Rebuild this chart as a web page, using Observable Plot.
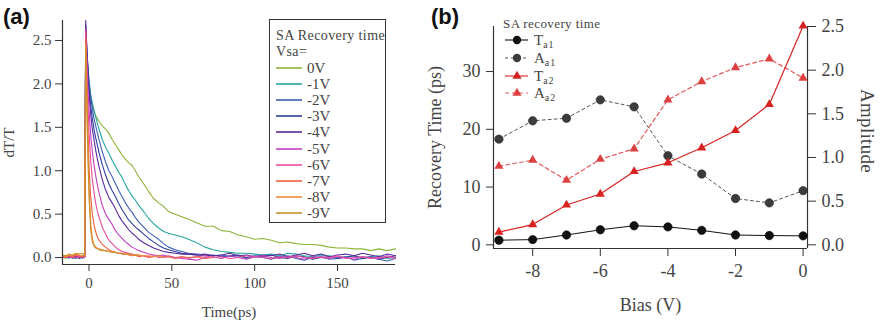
<!DOCTYPE html>
<html><head><meta charset="utf-8">
<script src="https://cdn.jsdelivr.net/npm/d3@7"></script>
<script src="https://cdn.jsdelivr.net/npm/@observablehq/plot@0.6"></script>
<style>
body{margin:0;background:#fff;}
#wrap{position:relative;width:880px;height:324px;overflow:hidden;font-family:"Liberation Serif","Times New Roman",serif;color:#444;}
#wrap svg text{font-family:"Liberation Serif","Times New Roman",serif !important;fill:#444;font-variant:normal !important;font-variant-numeric:normal !important;}
.tag{position:absolute;font-family:"Liberation Sans",Arial,sans-serif;font-weight:bold;font-size:22px;color:#111;line-height:22px;}
.ylab{position:absolute;font-size:19px;white-space:nowrap;transform-origin:0 0;letter-spacing:0.3px;}
.legA{position:absolute;left:269px;top:19px;width:115px;height:202px;border:1px solid #333;background:#fff;}
.legA .t{position:absolute;left:6px;font-size:14px;letter-spacing:0.4px;line-height:16px;white-space:nowrap;}
.legA .e{position:absolute;left:6px;height:16px;font-size:15px;line-height:16px;white-space:nowrap;}
.legA .e svg{position:absolute;left:0;top:0;}
.legA .e span{position:absolute;left:31px;top:0;}
.legB{position:absolute;left:503px;top:16px;}
.legB .t{position:absolute;left:0;top:0;font-size:13px;letter-spacing:0.4px;white-space:nowrap;line-height:16px;}
.legB .e{position:absolute;left:0;height:18px;white-space:nowrap;}
.legB .e svg{position:absolute;left:0;top:0;}
.legB .e span{position:absolute;left:31px;top:0;font-size:15px;line-height:18px;}
.legB sub{font-size:10px;vertical-align:-3px;letter-spacing:1px;}
</style></head><body><div id="wrap"></div>
<script>
// ---------- Panel (a) data ----------
const times = [-16,-14,-12,-10,-8,-6,-4,-3,-2.6,
  -2,-1,0,1,2,3,4,5,6,
  8,10,12,14,16,18,20,22,24,26,28,30,
  33,36,39,42,45,48,
  52,56,60,
  65,70,75,80,85,90,95,100,
  105,110,115,120,125,130,135,140,145,150,
  155,160,165,170,175,180,185];
const voltLabels = ["0V","-1V","-2V","-3V","-4V","-5V","-6V","-7V","-8V","-9V"];
const voltColors = ["#8db33a","#27a5a0","#3b5fb8","#2e3f9e","#5a2a9e","#c23fc2","#ee4b9a","#f0603f","#f28a3c","#c8922a"];
const v0V = [0.01,-0.01,0.02,0.0,0.01,-0.01,0.02,0.01,0.02,
  2.35,2.15,1.98,1.86,1.76,1.68,1.64,1.6,1.57,
  1.52,1.48,1.43,1.36,1.3,1.24,1.18,1.13,1.09,1.06,1.0,0.93,
  0.85,0.76,0.68,0.63,0.59,0.53,
  0.5,0.47,0.44,
  0.4,0.36,0.36,0.31,0.3,0.26,0.24,0.21,
  0.22,0.2,0.17,0.18,0.16,0.15,0.15,0.14,0.12,0.11,
  0.11,0.1,0.1,0.08,0.1,0.08,0.1];
const vm1V = [0.0,0.01,-0.01,0.02,0.0,0.01,-0.01,0.02,0.01,
  2.5,2.25,2.05,1.88,1.78,1.7,1.62,1.55,1.48,
  1.36,1.27,1.2,1.12,1.05,0.98,0.92,0.84,0.77,0.71,0.66,0.6,
  0.53,0.45,0.39,0.34,0.3,0.28,
  0.26,0.24,0.21,
  0.17,0.12,0.09,0.07,0.06,0.05,0.05,0.04,
  0.03,0.04,0.02,0.05,0.04,0.02,0.01,0.03,0.02,0.0,
  0.01,0.02,0.0,0.01,0.02,-0.01,0.0];
const vm2V = [0.01,0.0,0.02,-0.01,0.01,0.0,0.02,0.0,0.01,
  2.6,2.3,2.0,1.85,1.72,1.6,1.52,1.44,1.36,
  1.22,1.1,1.0,0.93,0.85,0.77,0.7,0.63,0.57,0.52,0.46,0.41,
  0.35,0.29,0.25,0.21,0.16,0.12,
  0.09,0.07,0.05,
  0.04,0.03,0.02,0.03,0.01,0.02,-0.01,0.01,
  0.0,-0.02,0.01,0.02,-0.01,-0.03,0.0,0.01,-0.02,-0.01,
  0.01,-0.03,-0.01,0.0,-0.02,-0.04,-0.01];
const vm3V = [0.0,0.02,0.0,0.01,-0.01,0.02,0.01,0.0,0.01,
  2.68,2.3,1.95,1.75,1.6,1.48,1.38,1.3,1.21,
  1.07,0.95,0.85,0.77,0.7,0.62,0.55,0.49,0.43,0.39,0.35,0.32,
  0.27,0.22,0.18,0.14,0.11,0.09,
  0.07,0.05,0.04,
  0.03,0.02,0.03,0.01,0.02,0.03,0.0,0.02,
  0.01,0.03,0.0,-0.01,0.02,0.01,-0.02,0.0,0.01,-0.01,
  0.0,0.02,-0.01,0.01,-0.02,0.0,0.02];
const vm4V = [0.02,0.0,0.01,0.0,0.02,-0.01,0.01,0.02,0.0,
  2.73,2.25,1.9,1.65,1.48,1.36,1.24,1.14,1.05,
  0.9,0.78,0.69,0.63,0.56,0.48,0.42,0.37,0.32,0.28,0.25,0.21,
  0.17,0.14,0.11,0.09,0.07,0.06,
  0.05,0.04,0.04,
  0.03,0.04,0.02,0.03,0.05,0.02,0.03,0.01,
  0.03,0.02,0.04,0.01,0.03,0.05,0.02,0.04,0.01,0.03,
  0.04,0.02,0.05,0.03,0.01,0.04,0.02];
const vm5V = [0.01,0.02,0.0,0.01,0.03,0.01,0.0,0.02,0.01,
  2.6,2.1,1.7,1.42,1.22,1.07,0.95,0.84,0.75,
  0.6,0.5,0.44,0.38,0.31,0.26,0.22,0.18,0.15,0.12,0.1,0.08,
  0.06,0.04,0.03,0.02,0.03,0.01,
  0.0,-0.01,-0.02,
  -0.03,0.0,0.01,-0.01,0.02,0.0,-0.02,0.01,
  0.02,0.0,-0.01,0.01,0.0,-0.02,0.01,0.0,-0.01,0.01,
  0.0,-0.02,0.01,0.0,-0.01,0.02,0.0];
const vm6V = [0.0,0.01,0.02,0.0,0.01,0.0,0.02,0.01,0.0,
  2.63,1.95,1.45,1.12,0.9,0.75,0.63,0.54,0.47,
  0.35,0.27,0.2,0.16,0.12,0.09,0.07,0.06,0.05,0.04,0.03,0.02,
  0.02,0.01,0.02,0.0,0.01,0.02,
  0.0,0.01,-0.01,
  0.01,0.02,0.0,0.01,-0.01,0.0,0.02,0.01,
  0.0,-0.01,0.01,0.0,0.02,0.0,-0.01,0.01,0.0,0.02,
  -0.01,0.0,0.01,-0.01,0.0,0.01,-0.01];
const vm7V = [0.01,0.0,0.02,0.01,0.03,0.02,0.01,0.02,0.01,
  2.52,1.7,1.05,0.7,0.5,0.38,0.3,0.24,0.2,
  0.15,0.12,0.09,0.07,0.06,0.05,0.04,0.04,0.03,0.02,0.03,0.01,
  0.02,0.0,0.01,0.02,0.0,0.01,
  -0.01,0.01,0.0,
  0.01,-0.01,0.0];
const vm8V = [0.02,0.01,0.03,0.02,0.04,0.03,0.02,0.03,0.02,
  2.45,1.5,0.8,0.4,0.22,0.15,0.12,0.11,0.1,
  0.09,0.08,0.07,0.07,0.06,0.05,0.05,0.04,0.04,0.03,0.03,0.03,
  0.02,0.02,0.01,0.02,0.01];
const vm9V = [0.03,0.02,0.04,0.03,0.05,0.04,0.05,0.03,0.02,
  2.42,1.4,0.7,0.32,0.18,0.13,0.11,0.1,0.09,
  0.08,0.08,0.07,0.06,0.06,0.05,0.05,0.04,0.04,0.03,0.03,0.03];
const xTicksA = [0,50,100,150];
const yTicksA = [0,0.5,1.0,1.5,2.0,2.5];

// ---------- Panel (b) data ----------
const bias = [-9,-8,-7,-6,-5,-4,-3,-2,-1,0];
const Ta1 = [0.8,0.9,1.7,2.6,3.3,3.1,2.5,1.7,1.6,1.55];
const Aa1 = [1.21,1.42,1.45,1.66,1.58,1.02,0.81,0.53,0.48,0.62];
const Ta2 = [2.2,3.5,6.9,8.8,12.7,14.2,16.8,19.8,24.3,37.9];
const Aa2 = [0.90,0.97,0.74,0.98,1.10,1.66,1.87,2.03,2.13,1.91];
const biasTicks = [-8,-6,-4,-2,0];
const timeTicksB = [0,10,20,30];
const ampTicks = [0,0.5,1.0,1.5,2.0,2.5];

// ---------- build ----------
const SERIF = "Liberation Serif";
const wrap = document.getElementById("wrap");
const seriesA = [v0V,vm1V,vm2V,vm3V,vm4V,vm5V,vm6V,vm7V,vm8V,vm9V];
const rowsA = [];
voltLabels.forEach((lab, si) => {
  times.forEach((t, i) => {
    const v = seriesA[si][i];
    if (v != null) rowsA.push({t, v, s: lab});
  });
});

const plotA = Plot.plot({
  width: 420, height: 324,
  marginLeft: 62, marginRight: 25, marginTop: 20, marginBottom: 60,
  style: {background: "transparent", overflow: "visible", fontFamily: SERIF},
  x: {domain: [-16, 185]},
  y: {domain: [-0.08, 2.73]},
  color: {domain: voltLabels, range: voltColors},
  marks: [
    Plot.lineY(rowsA, {x: "t", y: "v", z: "s", stroke: "s", strokeWidth: 1.1}),
    Plot.ruleX([-16], {stroke: "#333", strokeWidth: 1.2}),
    Plot.ruleY([-0.08], {stroke: "#333", strokeWidth: 1.2}),
    Plot.axisX({ticks: xTicksA, tickSize: 7, tickPadding: 6, stroke: "#333", fontFamily: SERIF, fontSize: 15, fontVariant: "normal", tickFormat: d => String(d), label: "Time(ps)", labelAnchor: "center", labelOffset: 52, labelArrow: "none"}),
    Plot.axisY({ticks: yTicksA, tickSize: 7, tickPadding: 4, stroke: "#333", fontFamily: SERIF, fontSize: 15, fontVariant: "normal", tickFormat: d => d.toFixed(1), label: "dT/T", labelAnchor: "center", labelOffset: 59, labelArrow: "none"})
  ]
});
plotA.style.position = "absolute";
plotA.style.left = "0px";
plotA.style.top = "0px";
wrap.appendChild(plotA);

const K = 37.8 / 2.5;
const rowsB = bias.map((b, i) => ({b, ta1: Ta1[i], aa1: Aa1[i] * K, ta2: Ta2[i], aa2: Aa2[i] * K}));
const plotB = Plot.plot({
  width: 460, height: 324,
  marginLeft: 73, marginRight: 73, marginTop: 26, marginBottom: 76,
  style: {background: "transparent", overflow: "visible", fontFamily: SERIF},
  x: {domain: [-9.16, 0.13]},
  y: {domain: [-0.64, 37.8]},
  marks: [
    Plot.ruleX([-9.16], {stroke: "#333", strokeWidth: 1.2}),
    Plot.ruleX([0.13], {stroke: "#333", strokeWidth: 1.2}),
    Plot.ruleY([-0.64], {stroke: "#333", strokeWidth: 1.2}),
    Plot.line(rowsB, {x: "b", y: "aa1", stroke: "#555", strokeWidth: 1, strokeDasharray: "3,3"}),
    Plot.line(rowsB, {x: "b", y: "aa2", stroke: "#e35a5a", strokeWidth: 1.2, strokeDasharray: "4,3"}),
    Plot.line(rowsB, {x: "b", y: "ta1", stroke: "#111", strokeWidth: 1}),
    Plot.line(rowsB, {x: "b", y: "ta2", stroke: "#d82222", strokeWidth: 1.2}),
    Plot.dot(rowsB, {x: "b", y: "aa1", r: 4.2, fill: "#3c3c3c", stroke: "#222", strokeWidth: 0.6}),
    Plot.dot(rowsB, {x: "b", y: "ta1", r: 4.2, fill: "#111", stroke: "#000", strokeWidth: 0.6}),
    Plot.dot(rowsB, {x: "b", y: "aa2", r: 3.4, symbol: "triangle", fill: "#dd4040"}),
    Plot.dot(rowsB, {x: "b", y: "ta2", r: 3.4, symbol: "triangle", fill: "#d82222"}),
    Plot.axisX({ticks: biasTicks, tickSize: 8, tickPadding: 8, stroke: "#333", fontFamily: SERIF, fontSize: 18, fontVariant: "normal", tickFormat: d => String(d), label: "Bias (V)", labelAnchor: "center", labelOffset: 62, labelArrow: "none"}),
    Plot.axisY({anchor: "left", ticks: timeTicksB, tickSize: 7, tickPadding: 6, stroke: "#333", fontFamily: SERIF, fontSize: 18, fontVariant: "normal", tickFormat: d => String(d), label: "Recovery Time (ps)", labelAnchor: "center", labelOffset: 65, labelArrow: "none"}),
    Plot.axisY({anchor: "right", ticks: ampTicks.map(a => a * K), tickSize: 8, tickPadding: 6, stroke: "#333", fontFamily: SERIF, fontSize: 18, fontVariant: "normal", tickFormat: d => (d / K).toFixed(1), label: null})
  ]
});
plotB.style.position = "absolute";
plotB.style.left = "420px";
plotB.style.top = "0px";
wrap.appendChild(plotB);

// right axis title (reads top to bottom as in the reference)
const amp = document.createElement("div");
amp.className = "ylab";
amp.textContent = "Amplitude";
amp.style.left = "878px";
amp.style.top = "89px";
amp.style.transform = "rotate(90deg)";
wrap.appendChild(amp);

// panel tags
const ta = document.createElement("div"); ta.className = "tag"; ta.style.left = "3px"; ta.style.top = "6px"; ta.textContent = "(a)"; wrap.appendChild(ta);
const tb = document.createElement("div"); tb.className = "tag"; tb.style.left = "431px"; tb.style.top = "6px"; tb.textContent = "(b)"; wrap.appendChild(tb);

// legend (a)
let la = '<div class="t" style="top:8px">SA Recovery time</div><div class="t" style="top:24px">Vsa=</div>';
voltLabels.forEach((lab, i) => {
  const top = 40 + i * 16.1;
  la += `<div class="e" style="top:${top}px"><svg width="28" height="16"><line x1="0" x2="26" y1="8" y2="8" stroke="${voltColors[i]}" stroke-width="1.6"/></svg><span>${lab}</span></div>`;
});
const legA = document.createElement("div"); legA.className = "legA"; legA.innerHTML = la; wrap.appendChild(legA);

// legend (b)
const legBItems = [
  {main: "T", sub: "a1", color: "#111", fill: "#111", dash: null, sym: "circle"},
  {main: "A", sub: "a1", color: "#555", fill: "#3c3c3c", dash: "3,3", sym: "circle"},
  {main: "T", sub: "a2", color: "#d82222", fill: "#d82222", dash: null, sym: "triangle"},
  {main: "A", sub: "a2", color: "#e35a5a", fill: "#dd4040", dash: "4,3", sym: "triangle"}
];
let lb = '<div class="t">SA recovery time</div>';
legBItems.forEach((it, i) => {
  const top = 15 + i * 17.8;
  const marker = it.sym === "circle"
    ? `<circle cx="14" cy="9" r="4.2" fill="${it.fill}"/>`
    : `<path d="${d3.symbol(d3.symbolTriangle, Math.PI * 3.4 * 3.4)()}" transform="translate(14,9)" fill="${it.fill}"/>`;
  lb += `<div class="e" style="top:${top}px"><svg width="30" height="18"><line x1="2" x2="25" y1="9" y2="9" stroke="${it.color}" stroke-width="1.1" ${it.dash ? `stroke-dasharray="${it.dash}"` : ""}/>${marker}</svg><span>${it.main}<sub>${it.sub}</sub></span></div>`;
});
const legB = document.createElement("div"); legB.className = "legB"; legB.innerHTML = lb; wrap.appendChild(legB);
</script></body></html>
